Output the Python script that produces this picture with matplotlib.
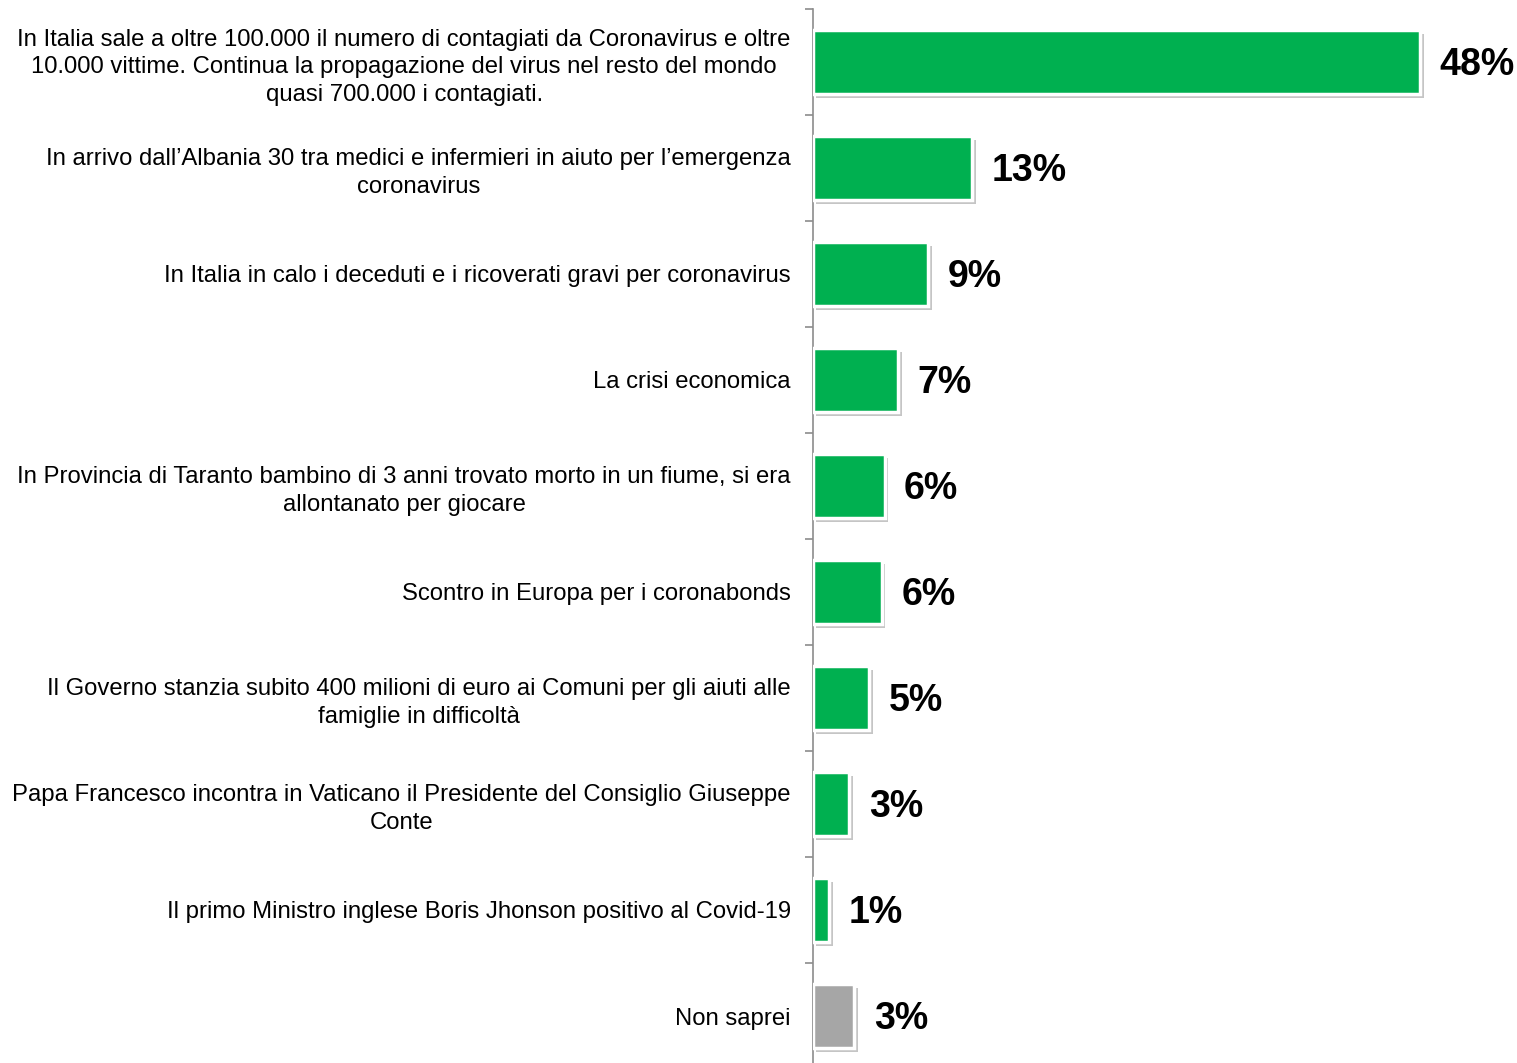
import numpy as np
import matplotlib.pyplot as plt
import matplotlib.patheffects as pe

plt.rcParams['font.family'] = ['Liberation Sans', 'DejaVu Sans']

# data
categories = [
    "In Italia sale a oltre 100.000 il numero di contagiati da Coronavirus e oltre\n"
    "10.000 vittime. Continua la propagazione del virus nel resto del mondo\n"
    "quasi 700.000 i contagiati.",
    "In arrivo dall\u2019Albania 30 tra medici e infermieri in aiuto per l\u2019emergenza\n"
    "coronavirus",
    "In Italia in calo i deceduti e i ricoverati gravi per coronavirus",
    "La crisi economica",
    "In Provincia di Taranto bambino di 3 anni trovato morto in un fiume, si era\n"
    "allontanato per giocare",
    "Scontro in Europa per i coronabonds",
    "Il Governo stanzia subito 400 milioni di euro ai Comuni per gli aiuti alle\n"
    "famiglie in difficolt\u00e0",
    "Papa Francesco incontra in Vaticano il Presidente del Consiglio Giuseppe\n"
    "Conte",
    "Il primo Ministro inglese Boris Jhonson positivo al Covid-19",
    "Non saprei",
]
values = [48.4, 12.7, 9.2, 6.8, 5.7, 5.5, 4.5, 2.9, 1.3, 3.3]
value_labels = ["48%", "13%", "9%", "7%", "6%", "6%", "5%", "3%", "1%", "3%"]
bar_colors = ["#00B050"] * 9 + ["#A6A6A6"]

W, H = 1517, 1063
fig = plt.figure(figsize=(W / 100, H / 100), dpi=100)
ax = fig.add_axes([813 / W, 1 - 1069 / H, 690 / W, 1060 / H])

y = np.arange(len(categories))
bars = ax.barh(y, values, height=0.6, color=bar_colors,
               edgecolor="white", linewidth=2.5, zorder=3)
for b in bars:
    b.set_path_effects([pe.SimplePatchShadow(offset=(2.5, -3), shadow_rgbFace="0.5", alpha=0.45),
                        pe.Normal()])

for yi, v, lab in zip(y, values, value_labels):
    ax.annotate(lab, (v, yi), xytext=(14, -2), textcoords="offset points",
                va="center", ha="left", fontsize=27, fontweight="bold", color="black")

ax.set_xlim(0, 55)
ax.set_ylim(len(categories) - 0.5, -0.5)

ax.set_yticks(y)
ax.set_yticklabels(categories, fontsize=17.2, color="black", linespacing=1.32)
for t in ax.get_yticklabels():
    t.set_multialignment("center")
ax.tick_params(axis="y", which="major", length=0, pad=16)
ax.set_yticks(np.arange(-0.5, len(categories), 1), minor=True)
ax.tick_params(axis="y", which="minor", length=6, width=1.2, color="#8c8c8c")

ax.set_xticks([])
for s in ["top", "right", "bottom"]:
    ax.spines[s].set_visible(False)
ax.spines["left"].set_color("#8c8c8c")
ax.spines["left"].set_linewidth(1.2)

fig.savefig("out.png", dpi=100)
